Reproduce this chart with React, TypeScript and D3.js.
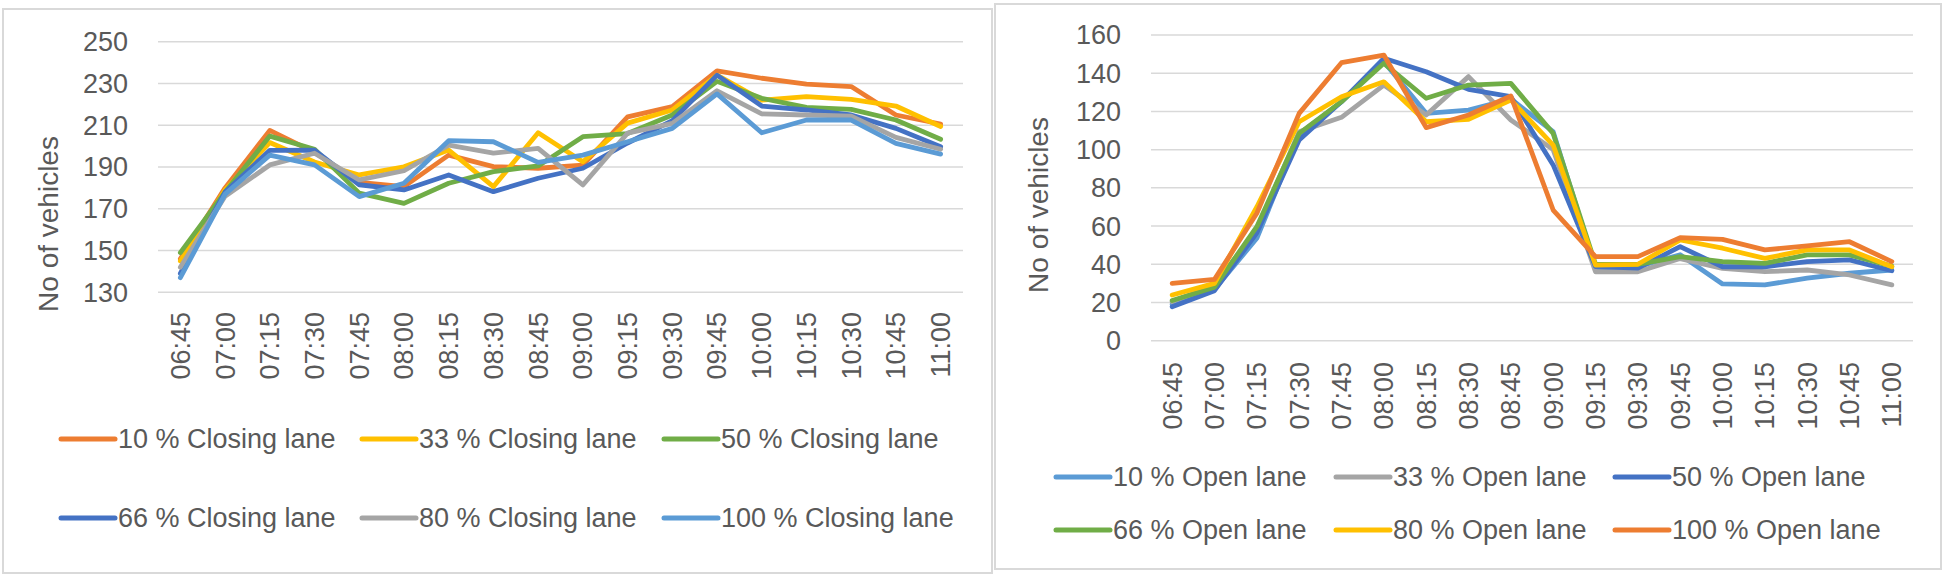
import React from "react";
import * as d3 from "d3";

const times = ["06:45","07:00","07:15","07:30","07:45","08:00","08:15","08:30","08:45","09:00","09:15","09:30","09:45","10:00","10:15","10:30","10:45","11:00"];

// Left chart: closing lane
const closingNames = ["10 % Closing lane","33 % Closing lane","50 % Closing lane","66 % Closing lane","80 % Closing lane","100 % Closing lane"];
const closing10 = [146,180,207.5,197,182.6,180.6,195.7,190.2,189.4,190.9,214,218.9,236,232.5,229.7,228.5,214.9,210.6];
const closing33 = [145,179,201.7,192.4,186.2,190.1,198.1,180.6,206.4,192.5,211,217.3,234,222,223.7,222.4,219.2,209.4];
const closing50 = [149,178,204.8,198.5,177.5,172.6,182.2,187.8,190.5,204.5,206,214.9,231,222.9,218.6,217.6,212.5,203.3];
const closing66 = [139,178,198,198.1,181.5,179,186.2,178.2,184.6,189.4,201.5,212.2,234,219.2,217.3,214.9,208.5,199.7];
const closing80 = [142,176,191,196.6,183.8,188.2,200.5,196.6,198.9,181.4,206.2,210.9,226.5,215.4,214.9,214.4,204.2,198.5];
const closing100 = [137,177,195.7,191,175.8,182.2,202.6,202.1,192.2,195.7,202.1,208.5,225,206.4,212.5,212.5,201.3,196.2];
const closingTicks = [130,150,170,190,210,230,250];

// Right chart: open lane
const openNames = ["10 % Open lane","33 % Open lane","50 % Open lane","66 % Open lane","80 % Open lane","100 % Open lane"];
const open10 = [19,27,53.6,108,125,146,119,120.7,126.5,109.4,38,38.8,45,29.7,29.2,32.7,35.3,37];
const open33 = [20.4,29,58,109.4,116.9,133.8,118.1,138.2,115.5,100,36.1,36.1,43,37.8,36.1,37,34.4,29.2];
const open50 = [17.8,26.2,56.5,105,125.2,147.8,140.8,131.6,127.7,92,38.8,38,49.2,38.7,38.7,41.4,42.3,36.6];
const open66 = [21,28,59.7,108.5,125.1,145.2,126.9,133.8,134.7,108.5,40,40,44,41.4,40.5,44.9,44.9,39];
const open80 = [23.9,30,70,114.6,127.7,135.5,114.6,115.9,126,102.4,39.6,40,52.7,48.4,43.1,47.5,47.5,38.7];
const open100 = [30,32.1,66.7,119,145.5,149.5,111.5,118.1,128.1,68.4,44,44,53.9,53,47.5,49.6,51.8,41.4];
const openTicks = [0,20,40,60,80,100,120,140,160];

const ORANGE = "#ED7D31", GOLD = "#FFC000", GREEN = "#70AD47", BLUE = "#4472C4", GRAY = "#A5A5A5", LTBLUE = "#5B9BD5";
const TEXT = "#595959";
const FONT = "'Liberation Sans', Arial, sans-serif";

type Series = { name: string; values: number[]; color: string };

type PanelProps = {
  box: [number, number, number, number];
  plot: { left: number; right: number; top: number; bottom: number };
  domain: [number, number];
  ticks: number[];
  series: Series[];
  labelTop: number;
  titleX: number;
  titleY: number;
  legendRows: [number, number];
  legendCols: number[];
};

function Panel(p: PanelProps) {
  const x = d3.scalePoint<string>().domain(times).range([p.plot.left, p.plot.right]).padding(0.5);
  const y = d3.scaleLinear().domain(p.domain).range([p.plot.bottom, p.plot.top]);
  const line = d3.line<number>().x((_, i) => x(times[i]) as number).y((v) => y(v));
  const tickRight = p.plot.left - 30;
  return (
    <g>
      <rect x={p.box[0]} y={p.box[1]} width={p.box[2]} height={p.box[3]} fill="#fff" stroke="#D9D9D9" strokeWidth={2} />
      {p.ticks.map((t) => (
        <g key={t}>
          <line x1={p.plot.left} x2={p.plot.right} y1={y(t)} y2={y(t)} stroke="#D9D9D9" strokeWidth={1.5} />
          <text x={tickRight} y={y(t)} dy="0.35em" textAnchor="end" fontSize={27} fill={TEXT} fontFamily={FONT}>{t}</text>
        </g>
      ))}
      <text transform={`translate(${p.titleX},${p.titleY}) rotate(-90)`} textAnchor="middle" dy="0.35em" fontSize={28} fill={TEXT} fontFamily={FONT}>No of vehicles</text>
      {times.map((t) => (
        <text key={t} transform={`translate(${x(t)},${p.labelTop}) rotate(-90)`} textAnchor="end" dy="0.35em" fontSize={27} fill={TEXT} fontFamily={FONT}>{t}</text>
      ))}
      {p.series.map((s) => (
        <path key={s.name} d={line(s.values) || ""} fill="none" stroke={s.color} strokeWidth={4.8} strokeLinejoin="round" strokeLinecap="round" />
      ))}
      {p.series.map((s, i) => {
        const row = Math.floor(i / 3);
        const col = i % 3;
        const lx = p.legendCols[col];
        const ly = p.legendRows[row];
        return (
          <g key={"lg" + s.name}>
            <line x1={lx} x2={lx + 54} y1={ly} y2={ly} stroke={s.color} strokeWidth={5} strokeLinecap="round" />
            <text x={lx + 57} y={ly} dy="0.35em" fontSize={27} fill={TEXT} fontFamily={FONT}>{s.name}</text>
          </g>
        );
      })}
    </g>
  );
}

export default function App() {
  const closingSeries: Series[] = [
    { name: closingNames[0], values: closing10, color: ORANGE },
    { name: closingNames[1], values: closing33, color: GOLD },
    { name: closingNames[2], values: closing50, color: GREEN },
    { name: closingNames[3], values: closing66, color: BLUE },
    { name: closingNames[4], values: closing80, color: GRAY },
    { name: closingNames[5], values: closing100, color: LTBLUE },
  ];
  const openSeries: Series[] = [
    { name: openNames[0], values: open10, color: LTBLUE },
    { name: openNames[1], values: open33, color: GRAY },
    { name: openNames[2], values: open50, color: BLUE },
    { name: openNames[3], values: open66, color: GREEN },
    { name: openNames[4], values: open80, color: GOLD },
    { name: openNames[5], values: open100, color: ORANGE },
  ];
  return (
    <svg width={1946} height={577} style={{ position: "absolute", left: 0, top: 0 }} xmlns="http://www.w3.org/2000/svg">
      <rect x={0} y={0} width={1946} height={577} fill="#fff" />
      <Panel
        box={[3, 9, 989, 564]}
        plot={{ left: 158, right: 963, top: 41.7, bottom: 292.3 }}
        domain={[130, 250]}
        ticks={closingTicks}
        series={closingSeries}
        labelTop={312}
        titleX={48}
        titleY={224}
        legendRows={[439, 518]}
        legendCols={[61, 362, 664]}
      />
      <Panel
        box={[995, 4, 946, 565]}
        plot={{ left: 1151, right: 1913, top: 35, bottom: 340.7 }}
        domain={[0, 160]}
        ticks={openTicks}
        series={openSeries}
        labelTop={362}
        titleX={1038}
        titleY={205}
        legendRows={[477, 530]}
        legendCols={[1056, 1336, 1615]}
      />
    </svg>
  );
}
